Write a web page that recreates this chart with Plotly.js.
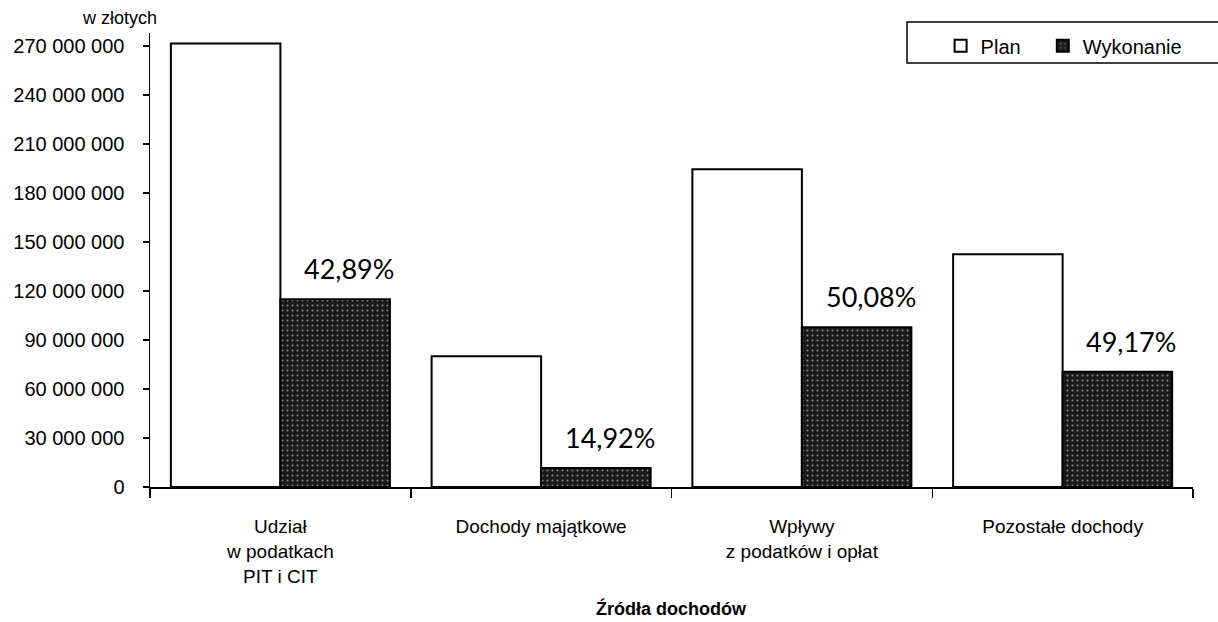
<!DOCTYPE html>
<html>
<head>
<meta charset="utf-8">
<script src="https://cdn.plot.ly/plotly-3.0.1.min.js"></script>
<style>html,body{margin:0;padding:0;background:#fff;}#chart{width:1218px;height:622px;}</style>
</head>
<body>
<div id="chart"></div>
<script>
var categories = ["Udział<br>w podatkach<br>PIT i CIT", "Dochody majątkowe", "Wpływy<br>z podatków i opłat", "Pozostałe dochody"];
var planValues = [271500000, 80000000, 194500000, 142500000];
var wykonanieValues = [115000000, 11700000, 97800000, 70500000];
var percentLabels = ["42,89%", "14,92%", "50,08%", "49,17%"];
var yTickValues = [0, 30000000, 60000000, 90000000, 120000000, 150000000, 180000000, 210000000, 240000000, 270000000];
var yTickLabels = ["0", "30 000 000", "60 000 000", "90 000 000", "120 000 000", "150 000 000", "180 000 000", "210 000 000", "240 000 000", "270 000 000"];

var font = "Liberation Sans, Arial, sans-serif";

var tracePlan = {
  type: "bar", name: "Plan", x: categories, y: planValues, legend: "legend",
  marker: {color: "#ffffff", line: {color: "#000", width: 2}},
  hoverinfo: "skip"
};
var traceWyk = {
  type: "bar", name: "Wykonanie", x: categories, y: wykonanieValues, legend: "legend2",
  marker: {color: "#1c1c1c", line: {color: "#000", width: 2},
           pattern: {shape: ".", fgcolor: "#8a8a8a", bgcolor: "#1a1a1a", size: 5, solidity: 0.12}},
  hoverinfo: "skip"
};

var annotations = percentLabels.map(function (t, i) {
  return {x: i + 0.21, y: wykonanieValues[i], xref: "x", yref: "y", text: t, showarrow: false,
          xanchor: "center", yanchor: "bottom", xshift: 14, yshift: 12,
          font: {family: "Lato, Open Sans, sans-serif", size: 27, color: "#000"}};
});
annotations.push({x: -0.0297, y: 1.033, xref: "paper", yref: "paper", text: "w złotych", showarrow: false,
  xanchor: "center", yanchor: "middle", font: {family: font, size: 18, color: "#000"}});
annotations.push({x: 0.5, y: -0.268, xref: "paper", yref: "paper", text: "<b>Źródła dochodów</b>", showarrow: false,
  xanchor: "center", yanchor: "middle", font: {family: font, size: 18, color: "#000"}});

var legendBase = {orientation: "h", xanchor: "left", y: 1.015, yanchor: "top",
  font: {family: font, size: 20, color: "#000"}, bgcolor: "rgba(0,0,0,0)", itemwidth: 30};

var layout = {
  width: 1218, height: 622,
  margin: {l: 150, r: 25, t: 33, b: 135},
  paper_bgcolor: "#fff", plot_bgcolor: "#fff",
  barmode: "group", bargap: 0.16, bargroupgap: 0,
  showlegend: true,
  legend: Object.assign({}, legendBase, {x: 0.758}),
  legend2: Object.assign({}, legendBase, {x: 0.856}),
  xaxis: {type: "category", showline: true, linecolor: "#000", linewidth: 1.5,
          ticks: "outside", tickson: "boundaries", ticklen: 9, tickwidth: 1.5, tickcolor: "#000",
          showgrid: false, zeroline: false, tickangle: 0, ticklabelstandoff: 22,
          tickfont: {family: font, size: 19, color: "#000"}, range: [-0.5, 3.5]},
  yaxis: {range: [0, 278000000], showline: true, linecolor: "#000", linewidth: 1.5,
          ticks: "outside", ticklen: 6, tickwidth: 1.5, tickcolor: "#000",
          tickvals: yTickValues, ticktext: yTickLabels, showgrid: false, zeroline: false,
          tickfont: {family: font, size: 20, color: "#000"}, ticklabelstandoff: 14},
  shapes: [{type: "rect", xref: "paper", yref: "paper", x0: 0.7258, x1: 1.035, y0: 0.934, y1: 1.0242,
            line: {color: "#000", width: 1.5}, fillcolor: "rgba(0,0,0,0)"}],
  annotations: annotations
};

Plotly.newPlot("chart", [tracePlan, traceWyk], layout, {displayModeBar: false, staticPlot: true});
</script>
</body>
</html>
